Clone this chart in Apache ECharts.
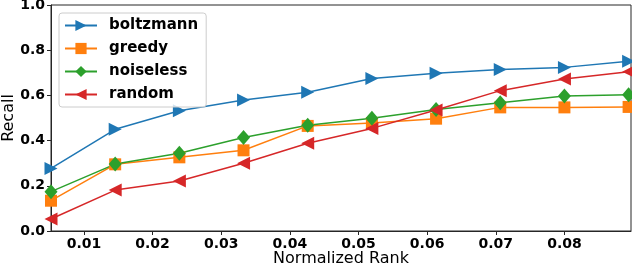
<!DOCTYPE html>
<html>
<head>
<meta charset="utf-8">
<script src="https://cdn.jsdelivr.net/npm/echarts@6/dist/echarts.min.js"></script>
<style>html,body{margin:0;padding:0;background:#fff}#c{width:632px;height:266px}</style>
</head>
<body>
<div id="c"></div>
<script>
const xValues = [0.0052, 0.01455, 0.0239, 0.03325, 0.0426, 0.05195, 0.0613, 0.07065, 0.08, 0.08935];
const boltzmann = [0.277, 0.45, 0.532, 0.58, 0.614, 0.675, 0.698, 0.715, 0.724, 0.751];
const greedy = [0.134, 0.295, 0.326, 0.357, 0.465, 0.478, 0.497, 0.547, 0.547, 0.549];
const noiseless = [0.174, 0.296, 0.344, 0.414, 0.468, 0.499, 0.538, 0.568, 0.597, 0.603];
const random = [0.053, 0.181, 0.221, 0.3, 0.388, 0.454, 0.535, 0.621, 0.673, 0.705];
const xTicks = [0.01, 0.02, 0.03, 0.04, 0.05, 0.06, 0.07, 0.08];

const pair = arr => arr.map((v, i) => [xValues[i], v]);
const chart = echarts.init(document.getElementById('c'));
const font = 'DejaVu Sans';
const mk = (name, data, color, symbol, size) => ({
  name, type: 'line', data: pair(data), symbol, symbolSize: size,
  showAllSymbol: true, clip: false,
  lineStyle: { color, width: 1.5 }, itemStyle: { color },
  emphasis: { disabled: true }, animation: false
});
chart.setOption({
  animation: false,
  textStyle: { fontFamily: font },
  grid: { left: 51, right: 1, top: 5, bottom: 35, outerBoundsMode: 'none', containLabel: false, show: true, borderColor: '#262626', borderWidth: 1 },
  legend: {
    orient: 'vertical', left: 59, top: 13, padding: [5, 8, 5, 5],
    itemWidth: 32, itemHeight: 14, itemGap: 8,
    backgroundColor: 'rgba(255,255,255,0.8)', borderColor: '#cccccc', borderWidth: 1, borderRadius: 3,
    textStyle: { fontFamily: font, fontWeight: 'bold', fontSize: 15, color: '#000', padding: [0, 0, 0, 7] },
    data: ['boltzmann', 'greedy', 'noiseless', 'random']
  },
  xAxis: {
    type: 'value', min: 0.0052, max: 0.0897,
    name: 'Normalized Rank', nameLocation: 'middle', nameGap: 20, nameMoveOverlap: false,
    nameTextStyle: { fontFamily: font, fontSize: 16, color: '#000', verticalAlign: 'top' },
    axisLine: { show: true, lineStyle: { color: '#262626' } },
    axisTick: { show: true, length: 4, customValues: xTicks, lineStyle: { color: '#262626' } },
    axisLabel: { customValues: xTicks, formatter: v => v.toFixed(2), fontFamily: font, fontWeight: 'bold', fontSize: 14, color: '#000', margin: 6 },
    splitLine: { show: false }
  },
  yAxis: {
    type: 'value', min: 0, max: 1, interval: 0.2,
    name: 'Recall', nameLocation: 'middle', nameGap: 34, nameMoveOverlap: false,
    nameTextStyle: { fontFamily: font, fontSize: 16, color: '#000', verticalAlign: 'bottom' },
    axisLine: { show: true, lineStyle: { color: '#262626' } },
    axisTick: { show: true, length: 4, lineStyle: { color: '#262626' } },
    axisLabel: { formatter: v => v.toFixed(1), fontFamily: font, fontWeight: 'bold', fontSize: 14, color: '#000', margin: 6 },
    splitLine: { show: false }
  },
  series: [
    mk('boltzmann', boltzmann, '#1f77b4', 'path://M0,0L10,5L0,10Z', [13, 13]),
    mk('greedy', greedy, '#ff7f0e', 'rect', 12),
    mk('noiseless', noiseless, '#2ca02c', 'diamond', [13, 15]),
    mk('random', random, '#d62728', 'path://M10,0L0,5L10,10Z', [13, 13])
  ]
});
</script>
</body>
</html>
